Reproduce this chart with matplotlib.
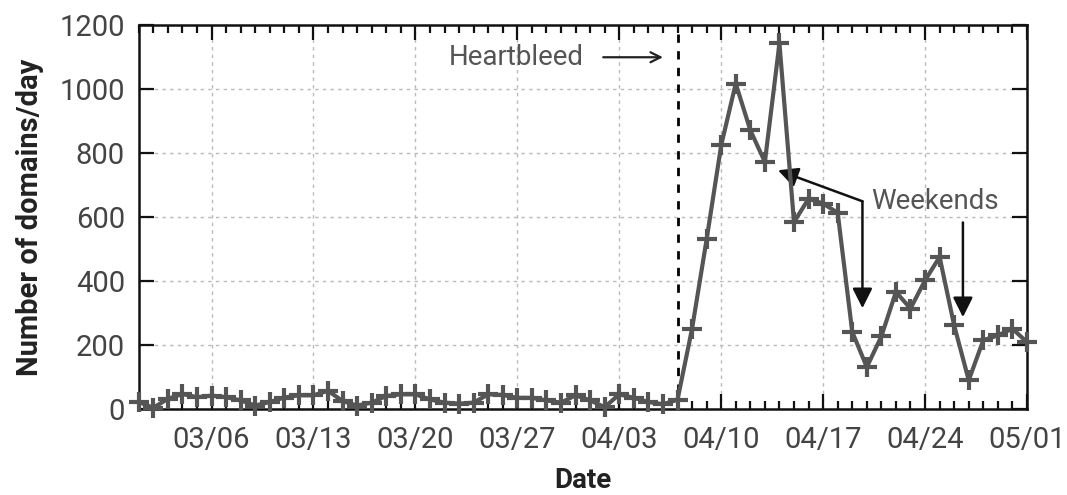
import matplotlib
matplotlib.use('Agg')
import matplotlib.pyplot as plt
import matplotlib.dates as mdates
import pandas as pd

# daily counts, 2014-03-01 .. 2014-05-01
start = '2014-03-01'
end = '2014-05-01'
domains_march = [23, 5, 33, 48, 38, 43, 38, 28, 12, 23, 37, 44, 44, 58, 26, 12,
                 21, 42, 47, 47, 31, 21, 18, 21, 47, 45, 36, 36, 28, 21, 44]
domains_april = [28, 7, 47, 36, 23, 16, 30, 252, 531, 825, 1018, 872, 773, 1143,
                 585, 658, 643, 614, 242, 132, 228, 367, 315, 403, 476, 262, 91,
                 216, 231, 252]
domains_may = [210]
heartbleed_date = '2014-04-07'

days = pd.date_range(start, end, freq='D')
counts = domains_march + domains_april + domains_may

plt.rcParams['font.family'] = ['Roboto', 'DejaVu Sans']
grey = '#555555'

fig = plt.figure(figsize=(10.67, 4.95), dpi=100)
ax = fig.add_axes([0.130, 0.173, 0.8325, 0.776])

ax.plot(days, counts, color=grey, lw=3, marker='+', ms=14, mew=3,
        clip_on=False, zorder=5)

ax.set_xlim(mdates.date2num(pd.Timestamp(start)), mdates.date2num(pd.Timestamp(end)))
ax.set_ylim(0, 1200)
ax.set_yticks(range(0, 1201, 200))

ax.xaxis.set_major_locator(mdates.WeekdayLocator(byweekday=mdates.TH))
ax.xaxis.set_minor_locator(mdates.DayLocator())
ax.xaxis.set_major_formatter(mdates.DateFormatter('%m/%d'))

ax.grid(True, which='major', color='#bbbbbb', ls=(0, (2.5, 3)), lw=1)
ax.set_axisbelow(True)

ax.tick_params(which='both', direction='in', top=True, right=True, width=1.6,
               colors='#111111', labelcolor='#444444', labelsize=21)
ax.tick_params(which='major', length=11)
ax.tick_params(which='minor', length=6)
ax.tick_params(axis='x', pad=12)
ax.tick_params(axis='y', pad=10)
for s in ax.spines.values():
    s.set_linewidth(1.8)
    s.set_color('#111111')

ax.set_xlabel('Date', fontsize=20, fontweight='bold', color='#222222', labelpad=9)
ax.set_ylabel('Number of domains/day', fontsize=21, fontweight='bold',
              color='#222222', labelpad=11)

# Heartbleed marker
hb = mdates.date2num(pd.Timestamp(heartbleed_date))
ax.axvline(hb, color='black', ls=(0, (3, 3)), lw=2, zorder=3)
ax.text(hb - 11.1, 1100, 'Heartbleed', fontsize=20, color=grey,
        ha='center', va='center')
ax.annotate('', xy=(hb - 1.0, 1100), xytext=(hb - 5.1, 1100),
            arrowprops=dict(arrowstyle='->', color='#222222', lw=1.6,
                            mutation_scale=18, shrinkA=0, shrinkB=0))

# Weekends annotation
d0 = mdates.date2num(pd.Timestamp(start))
ax.text(d0 + 54.7, 650, 'Weekends', fontsize=20, color=grey,
        ha='center', va='center')
head = dict(arrowstyle='-|>', color='#111111', lw=1.8, mutation_scale=30,
            shrinkA=0, shrinkB=0)
ax.annotate('', xy=(d0 + 43.9, 747), xytext=(d0 + 49.7, 650), arrowprops=head)
ax.annotate('', xy=(d0 + 49.7, 316), xytext=(d0 + 49.7, 650), arrowprops=head)
ax.annotate('', xy=(d0 + 56.6, 288), xytext=(d0 + 56.6, 584), arrowprops=head)

fig.savefig('out.png', dpi=100)
